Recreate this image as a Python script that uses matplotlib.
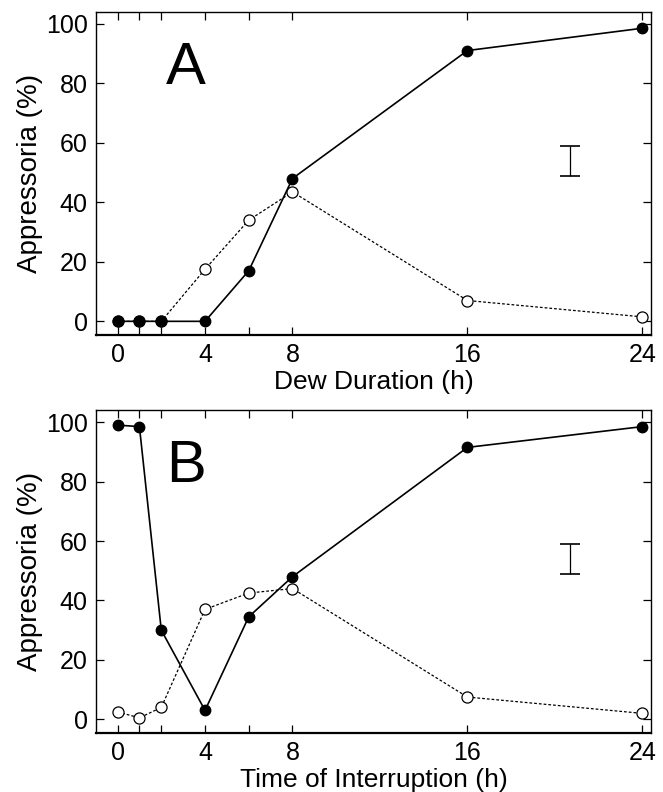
import matplotlib
matplotlib.use("Agg")
import matplotlib.pyplot as plt
from matplotlib import font_manager

names = {f.name for f in font_manager.fontManager.ttflist}
fam = "Liberation Sans Narrow" if "Liberation Sans Narrow" in names else "Liberation Sans"
plt.rcParams['font.family'] = [fam, 'DejaVu Sans']

hours = [0, 1, 2, 4, 6, 8, 16, 24]

# panel A: dew duration
a_filled = [0, 0, 0, 0, 17, 48, 91, 98.5]
a_open = [0, 0, 0, 17.5, 34, 43.5, 7, 1.5]

# panel B: time of interruption
b_filled = [99, 98.5, 30, 3, 34.5, 48, 91.5, 98.5]
b_open = [2.5, 0.5, 4, 37, 42.5, 44, 7.5, 2]

# error bar (LSD) drawn in each panel
bar_x = 20.7
bar_mid = 54
bar_half = 5

panels = [
    ("A", "Dew Duration (h)", a_filled, a_open),
    ("B", "Time of Interruption (h)", b_filled, b_open),
]

fig = plt.figure(figsize=(6.63, 7.92), dpi=100)
rects = [[0.145, 0.577, 0.837, 0.408], [0.145, 0.0745, 0.837, 0.4075]]

for rect, (letter, xlabel, filled, opened) in zip(rects, panels):
    ax = fig.add_axes(rect)
    ax.plot(hours, opened, linestyle=(0, (2.2, 1.6)), color='black', lw=0.9,
            marker='o', ms=8, mfc='white', mec='black', mew=0.9, zorder=2)
    ax.plot(hours, filled, '-', color='black', lw=1.2,
            marker='o', ms=7.5, mfc='black', mec='black', zorder=3)
    ax.errorbar([bar_x], [bar_mid], yerr=[bar_half], fmt='none', ecolor='black',
                elinewidth=0.9, capsize=7, capthick=1.2)
    ax.text(2.2, 85, letter, fontsize=43, va='center', ha='left')

    ax.set_xlim(-0.98, 24.4)
    ax.set_ylim(-4.6, 104)
    ax.set_xticks(hours)
    ax.set_xticklabels(['0', '', '', '4', '', '8', '16', '24'])
    ax.set_yticks([0, 20, 40, 60, 80, 100])
    ax.tick_params(direction='in', top=True, right=True, length=6, width=0.9,
                   labelsize=18, pad=6)
    ax.set_xlabel(xlabel, fontsize=19, labelpad=2)
    ax.set_ylabel("Appressoria (%)", fontsize=20, labelpad=2)
    for s in ax.spines.values():
        s.set_linewidth(1.0)
    ax.spines['bottom'].set_linewidth(1.6)

fig.savefig("out.png", dpi=100)
